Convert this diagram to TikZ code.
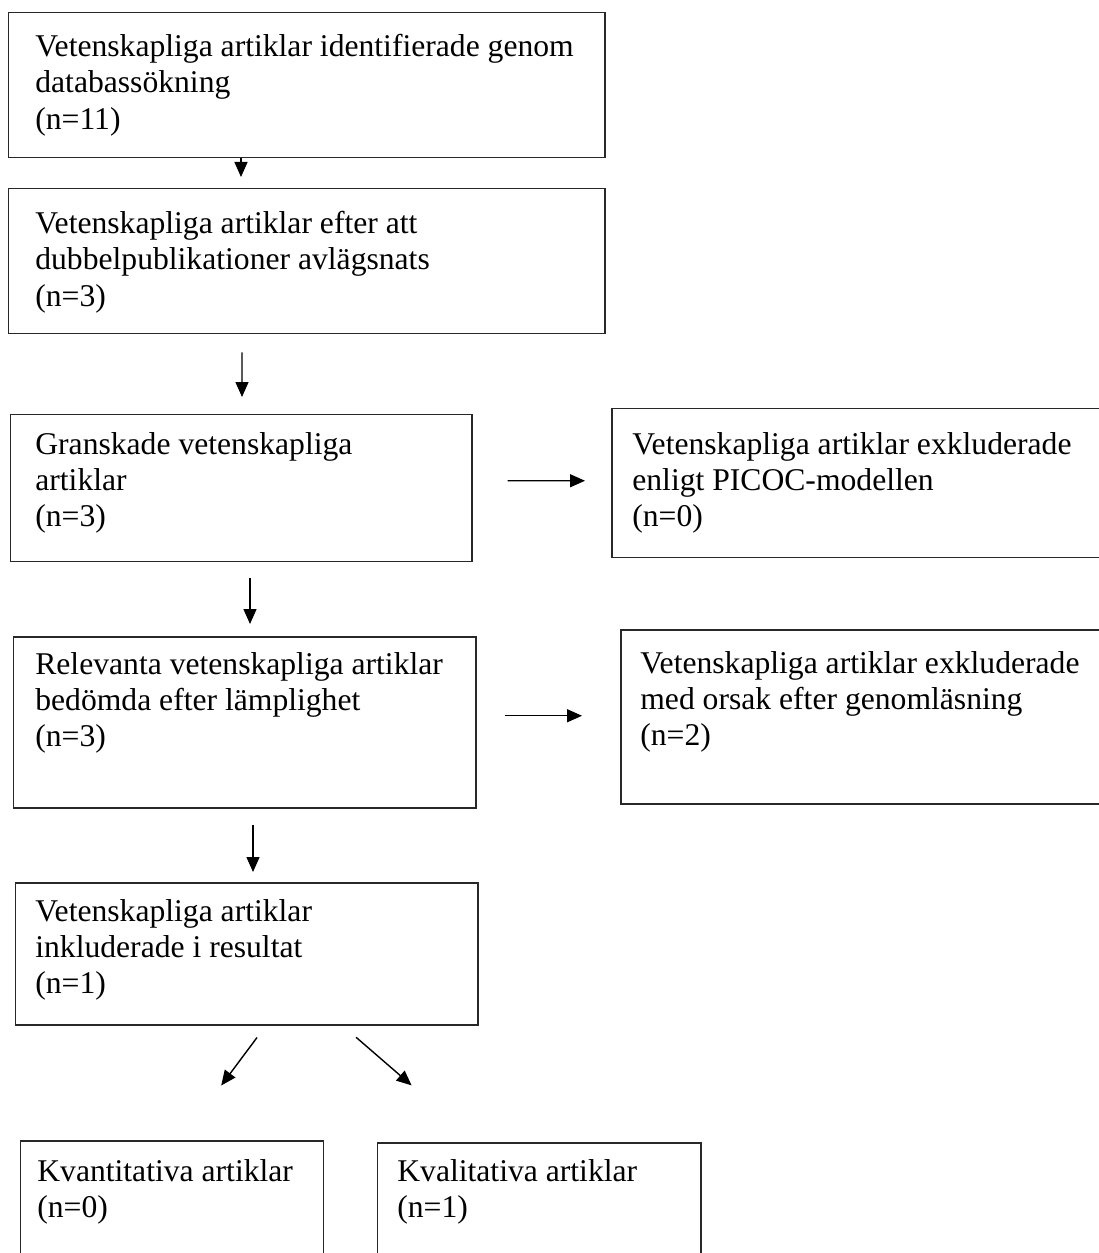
\documentclass[tikz,border=0pt]{standalone}
\usepackage{fontspec}
\setmainfont{Liberation Serif}
\usetikzlibrary{arrows.meta}
\definecolor{boxline}{RGB}{40,40,40}

\begin{document}
\begin{tikzpicture}[
    box/.style={draw=boxline, line width=0.85pt, anchor=north west, inner sep=0},
    txt/.style={anchor=north west, align=left, inner sep=0, font=\fontsize{18pt}{20.6pt}\selectfont},
    arr/.style={-{Triangle[length=0.3cm,width=0.26cm]}, line width=0.8pt}
]
    \useasboundingbox (0,0) rectangle (21.98,-25.06);

    \node[box, minimum width=11.92cm, minimum height=2.9cm] (search) at (0.16,-0.24) {};
    \node[txt] (search-t) at ([shift={(0.54,-0.44)}]search.north west) {Vetenskapliga artiklar identifierade genom\\databassökning\\(n=11)};

    \node[box, minimum width=11.92cm, minimum height=2.9cm] (dedup) at (0.16,-3.76) {};
    \node[txt] (dedup-t) at ([shift={(0.54,-0.46)}]dedup.north west) {Vetenskapliga artiklar efter att\\dubbelpublikationer avlägsnats\\(n=3)};

    \node[box, minimum width=9.22cm, minimum height=2.94cm] (screened) at (0.20,-8.28) {};
    \node[txt] (screened-t) at ([shift={(0.50,-0.36)}]screened.north west) {Granskade vetenskapliga\\artiklar\\(n=3)};

    \node[box, minimum width=10cm, minimum height=2.98cm] (excl1) at (12.22,-8.16) {};
    \node[txt] (excl1-t) at ([shift={(0.42,-0.48)}]excl1.north west) {Vetenskapliga artiklar exkluderade\\enligt PICOC-modellen\\(n=0)};

    \node[box, minimum width=9.24cm, minimum height=3.42cm] (eligible) at (0.26,-12.72) {};
    \node[txt] (eligible-t) at ([shift={(0.44,-0.32)}]eligible.north west) {Relevanta vetenskapliga artiklar\\bedömda efter lämplighet\\(n=3)};

    \node[box, minimum width=9.8cm, minimum height=3.48cm] (excl2) at (12.40,-12.58) {};
    \node[txt] (excl2-t) at ([shift={(0.40,-0.44)}]excl2.north west) {Vetenskapliga artiklar exkluderade\\med orsak efter genomläsning\\(n=2)};

    \node[box, minimum width=9.24cm, minimum height=2.84cm] (included) at (0.30,-17.64) {};
    \node[txt] (included-t) at ([shift={(0.40,-0.34)}]included.north west) {Vetenskapliga artiklar\\inkluderade i resultat\\(n=1)};

    \node[box, minimum width=6.06cm, minimum height=2.5cm] (quant) at (0.40,-22.80) {};
    \node[txt] (quant-t) at ([shift={(0.34,-0.38)}]quant.north west) {Kvantitativa artiklar\\(n=0)};

    \node[box, minimum width=6.46cm, minimum height=2.5cm] (qual) at (7.54,-22.84) {};
    \node[txt] (qual-t) at ([shift={(0.40,-0.34)}]qual.north west) {Kvalitativa artiklar\\(n=1)};

    \draw[arr, shorten >=0.22cm] ([xshift=4.66cm]search.south west) -- ([xshift=4.66cm]dedup.north west);
    \draw[arr, shorten <=0.36cm, shorten >=0.34cm] ([xshift=4.68cm]dedup.south west) -- ([xshift=4.64cm]screened.north west);
    \draw[arr, shorten <=0.32cm, shorten >=0.24cm] ([xshift=4.80cm]screened.south west) -- ([xshift=4.74cm]eligible.north west);
    \draw[arr, shorten <=0.32cm, shorten >=0.20cm] ([xshift=4.80cm]eligible.south west) -- ([xshift=4.76cm]included.north west);

    \draw[arr, shorten <=0.70cm, shorten >=0.52cm] ([yshift=0.15cm]screened.east) -- ([yshift=0.05cm]excl1.west);
    \draw[arr, shorten <=0.56cm, shorten >=0.76cm] ([yshift=0.13cm]eligible.east) -- ([yshift=0.02cm]excl2.west);

    \draw[arr, shorten <=0.30cm, shorten >=1.36cm] ([xshift=5.02cm]included.south west) -- ([xshift=3.21cm]quant.north west);
    \draw[arr, shorten <=0.36cm, shorten >=1.73cm] ([xshift=6.55cm]included.south west) -- ([xshift=2.00cm]qual.north west);
\end{tikzpicture}
\end{document}
